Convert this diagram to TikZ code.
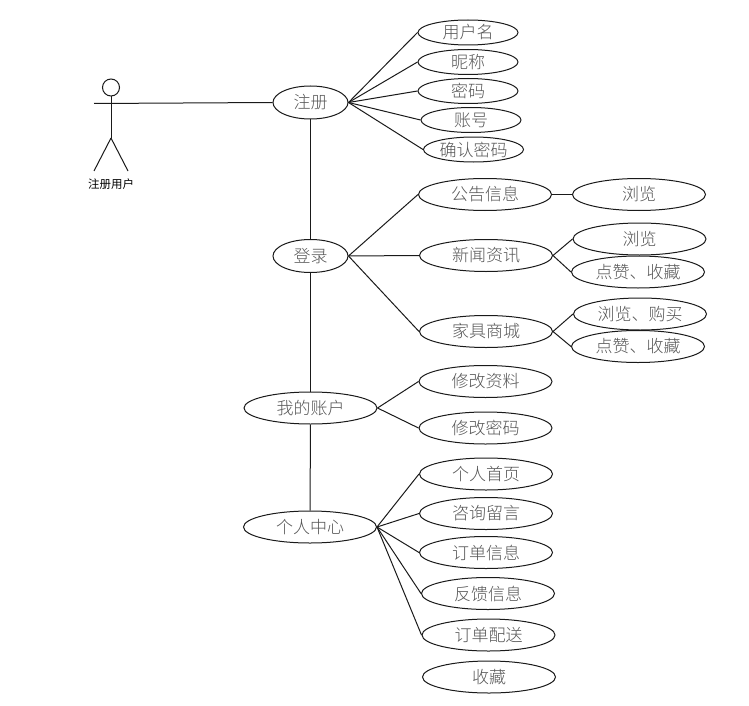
\documentclass[tikz,border=0pt]{standalone}
\usepackage{fontspec}
\usetikzlibrary{shapes.geometric}
\setmainfont{Liberation Sans}
\newfontfamily\cjk{Noto Sans CJK SC Light}
\newfontfamily\cjkreg{Noto Sans CJK SC}
\definecolor{inkline}{HTML}{1A1A1A}
\definecolor{inktext}{HTML}{555555}
\tikzset{
  usecase/.style={draw=inkline,line width=1pt,ellipse,inner sep=0pt,fill=white,text=inktext,
    font=\cjk\fontsize{17}{20}\selectfont},
  small/.style={usecase,minimum width=100pt,minimum height=25pt},
  big/.style={usecase,minimum width=133pt,minimum height=32pt},
  main/.style={usecase,minimum width=75pt,minimum height=33pt},
  link/.style={draw=inkline,line width=1pt},
  actorlabel/.style={font=\cjkreg\fontsize{11.5}{13}\selectfont,text=black,inner sep=0pt},
  actorhead/.style={draw=inkline,line width=1pt,circle,minimum size=17pt,inner sep=0pt}
}
\begin{document}
\begin{tikzpicture}[x=1pt,y=-1pt]
\useasboundingbox (0,0) rectangle (749,706);
% actor
\node[actorhead] (head) at (111,87.5) {};
\coordinate (lefthand) at (94,103.5);
\coordinate (hip) at (111,138);
\coordinate (leftfoot) at (94,171);
\coordinate (rightfoot) at (128,171);
\node[actorlabel] (actor) at (111,184) {注册用户};
% main use cases
\node[main] (reg) at (310.5,102.5) {注册};
\node[main] (login) at (310.5,256) {登录};
\node[big] (acct) at (310.5,408) {我的账户};
\node[big] (center) at (310,527) {个人中心};
% register
\node[small] (r1) at (468,32.5) {用户名};
\node[small] (r2) at (468,62) {昵称};
\node[small] (r3) at (468,91) {密码};
\node[small] (r4) at (471,120) {账号};
\node[small] (r5) at (473.5,149.5) {确认密码};
% login
\node[big] (l1) at (485,194.5) {公告信息};
\node[big] (l2) at (486,255.5) {新闻资讯};
\node[big] (l3) at (486,331.5) {家具商城};
\node[big] (a1) at (639,194.5) {浏览};
\node[big] (b1) at (639.5,239) {浏览};
\node[big] (b2) at (638,272) {点赞、收藏};
\node[big] (c1) at (640,314) {浏览、购买};
\node[big] (c2) at (638,346.5) {点赞、收藏};
% account
\node[big] (m1) at (485.5,381.5) {修改资料};
\node[big] (m2) at (485.5,428) {修改密码};
% center
\node[big] (p1) at (486,474) {个人首页};
\node[big] (p2) at (486,513.5) {咨询留言};
\node[big] (p3) at (486,552.5) {订单信息};
\node[big] (p4) at (488,593.5) {反馈信息};
\node[big] (p5) at (488.5,635) {订单配送};
\node[big] (p6) at (489,677) {收藏};
% connectors
\draw[link] (head) -- (hip);
\draw[link] (hip) -- (leftfoot);
\draw[link] (hip) -- (rightfoot);
\draw[link] (lefthand) -- (reg.west);
\draw[link] (reg) -- (login);
\draw[link] (login) -- (acct);
\draw[link] (acct) -- (center);
\foreach \t in {r1,r2,r3,r4,r5} \draw[link] (reg.east) -- (\t.west);
\foreach \t in {l1,l2,l3} \draw[link] (login.east) -- (\t.west);
\draw[link] (l1.east) -- (a1.west);
\foreach \t in {b1,b2} \draw[link] (l2.east) -- (\t.west);
\foreach \t in {c1,c2} \draw[link] (l3.east) -- (\t.west);
\foreach \t in {m1,m2} \draw[link] (acct.east) -- (\t.west);
\foreach \t in {p1,p2,p3,p4,p5} \draw[link] (center.east) -- (\t.west);
\end{tikzpicture}
\end{document}
